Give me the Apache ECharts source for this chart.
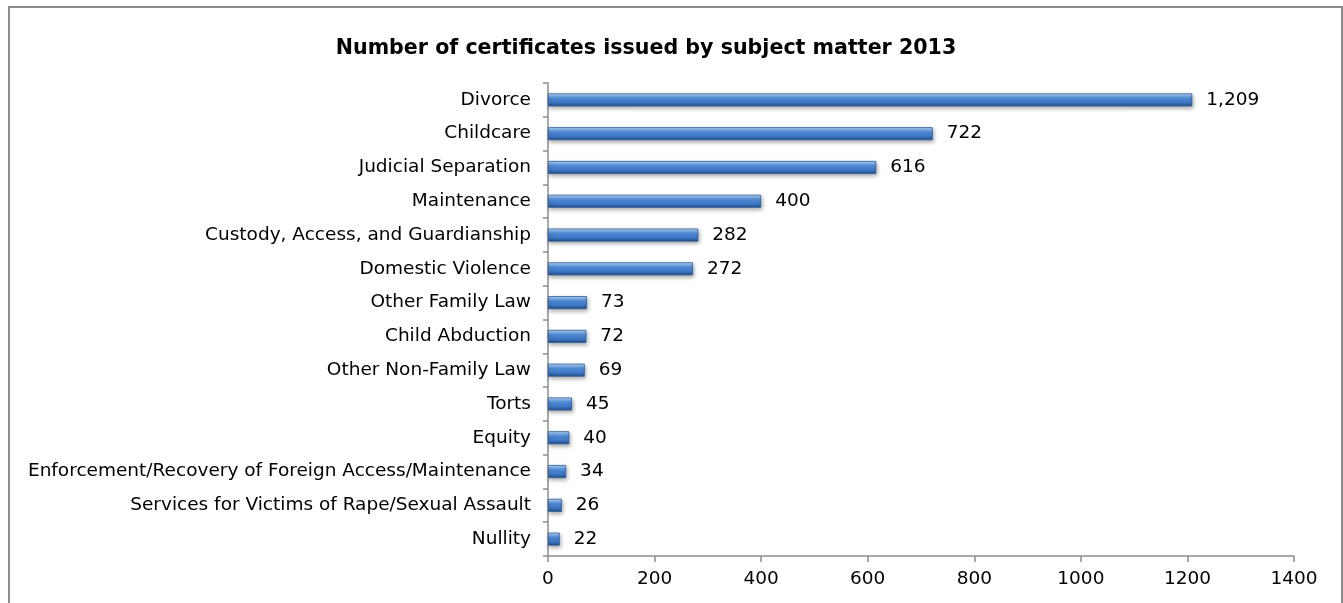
<!DOCTYPE html>
<html>
<head>
<meta charset="utf-8">
<script src="https://cdn.jsdelivr.net/npm/echarts@6/dist/echarts.min.js"></script>
<style>
  html, body { margin: 0; padding: 0; background: #fff; }
  #frame { position: absolute; left: 8px; top: 6px; width: 1335px; height: 620px; border: 2px solid #8c8c8c; box-sizing: border-box; }
  #chart { position: absolute; left: 0; top: 0; width: 1343px; height: 603px; }
</style>
</head>
<body>
<div id="frame"></div>
<div id="chart"></div>
<script>
// Certificates issued in 2013, grouped by subject matter
const categories = [
  'Divorce',
  'Childcare',
  'Judicial Separation',
  'Maintenance',
  'Custody, Access, and Guardianship',
  'Domestic Violence',
  'Other Family Law',
  'Child Abduction',
  'Other Non-Family Law',
  'Torts',
  'Equity',
  'Enforcement/Recovery of Foreign Access/Maintenance',
  'Services for Victims of Rape/Sexual Assault',
  'Nullity'
];
const certificates = [1209, 722, 616, 400, 282, 272, 73, 72, 69, 45, 40, 34, 26, 22];
const xTicks = { min: 0, max: 1400, interval: 200 };

const FONT = '"DejaVu Sans", Verdana, sans-serif';

const barFill = new echarts.graphic.LinearGradient(0, 0, 0, 1, [
  { offset: 0, color: '#c0dbf7' },
  { offset: 0.2, color: '#7fb0ea' },
  { offset: 0.38, color: '#4f8ad6' },
  { offset: 0.72, color: '#3d76c2' },
  { offset: 1, color: '#22497f' }
]);

const chart = echarts.init(document.getElementById('chart'), null, { renderer: 'canvas' });
chart.setOption({
  backgroundColor: 'transparent',
  animation: false,
  title: {
    text: 'Number of certificates issued by subject matter 2013',
    left: 641,
    textAlign: 'center',
    top: 33,
    textStyle: { fontFamily: FONT, fontSize: 20.6, fontWeight: 'bold', color: '#000' }
  },
  grid: { left: 548, right: 49, top: 83, bottom: 47, containLabel: false },
  xAxis: {
    type: 'value',
    min: xTicks.min,
    max: xTicks.max,
    interval: xTicks.interval,
    axisLine: { show: true, lineStyle: { color: '#8c8c8c', width: 1.5 } },
    axisTick: { show: true, length: 6, lineStyle: { color: '#8c8c8c', width: 1.5 } },
    splitLine: { show: false },
    axisLabel: { fontFamily: FONT, fontSize: 18.5, color: '#000', margin: 14, formatter: v => String(v) }
  },
  yAxis: {
    type: 'category',
    inverse: true,
    data: categories,
    axisLine: { show: true, lineStyle: { color: '#8c8c8c', width: 1.5 } },
    axisTick: { show: true, length: 5, alignWithLabel: false, lineStyle: { color: '#8c8c8c', width: 1.5 } },
    axisLabel: { fontFamily: FONT, fontSize: 18.5, color: '#000', margin: 17 }
  },
  series: [{
    type: 'bar',
    data: certificates,
    barWidth: 13,
    itemStyle: {
      color: barFill,
      borderColor: '#2d5d9c',
      borderWidth: 0.8,
      shadowColor: 'rgba(0,0,0,0.35)',
      shadowBlur: 4,
      shadowOffsetX: 1,
      shadowOffsetY: 2
    },
    label: {
      show: true,
      position: 'right',
      distance: 14,
      fontFamily: FONT,
      fontSize: 18.5,
      color: '#000',
      formatter: p => p.value.toLocaleString('en-US')
    }
  }]
});
</script>
</body>
</html>
